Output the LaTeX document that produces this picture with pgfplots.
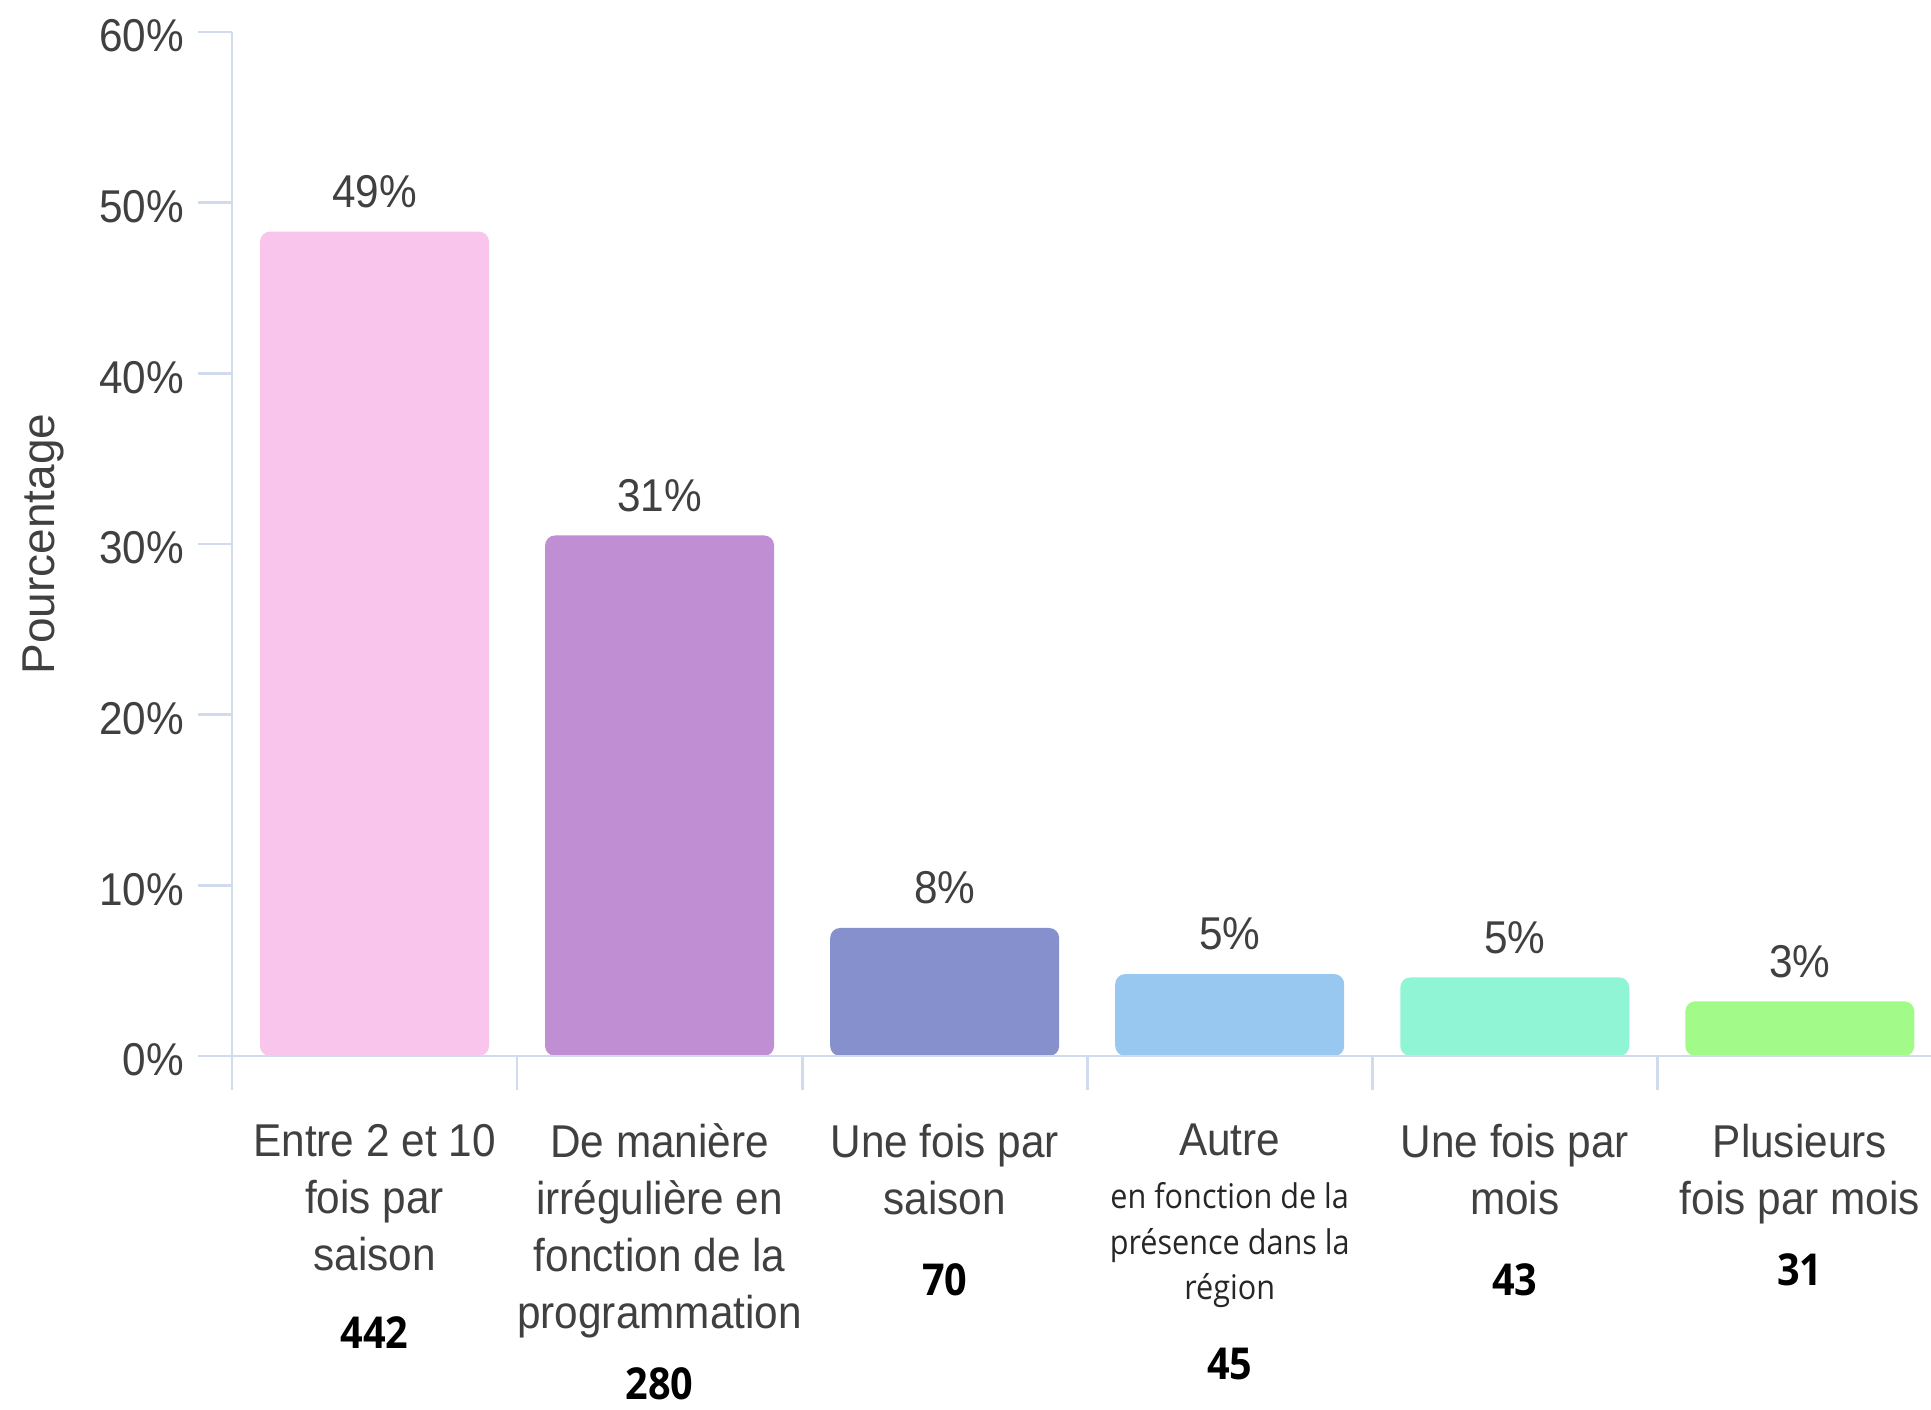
\documentclass[border=0pt]{standalone}
\usepackage{fontspec}
\setmainfont{Liberation Sans}[FakeStretch=0.92]
\newfontfamily\plainfont{Liberation Sans}
\newfontfamily\osfont{Open Sans}[FakeStretch=0.9]
\usepackage{pgfplots}
\pgfplotsset{compat=1.18}
\definecolor{axiscol}{HTML}{D2DAEE}
\definecolor{txt}{HTML}{404040}
\definecolor{cA}{HTML}{F9C5EC}
\definecolor{cB}{HTML}{C08ED3}
\definecolor{cC}{HTML}{8690CC}
\definecolor{cD}{HTML}{98C8F0}
\definecolor{cE}{HTML}{8FF5D5}
\definecolor{cF}{HTML}{A2FB89}
\newcommand{\cnt}[1]{{\osfont\bfseries\fontsize{11}{14}\selectfont\color{black}#1}}
\newcommand{\subtxt}[1]{{\osfont\fontsize{8.5}{11.4}\selectfont\color{black!85}\begin{tabular}[t]{@{}c@{}}#1\end{tabular}}}
\begin{document}
\begin{tikzpicture}
\begin{axis}[
  scale only axis, width=424.75pt, height=256pt,
  xmin=-0.5, xmax=5.46, ymin=0, ymax=60,
  axis lines=left,
  axis line style={-, draw=axiscol, line width=0.7pt},
  axis on top,
  ybar, bar width=57.25pt, bar shift=0pt,
  xtick={0,1,2,3,4,5},
  xticklabels={
    {Entre 2 et 10\\fois par\\saison\\[5.3pt]\cnt{442}},
    {De manière\\irrégulière en\\fonction de la\\programmation\\[3.4pt]\cnt{280}},
    {Une fois par\\saison\\[6pt]\cnt{70}},
    {Autre\\[-1pt]\subtxt{en fonction de la\\présence dans la\\région}\\[7.6pt]\cnt{45}},
    {Une fois par\\mois\\[6pt]\cnt{43}},
    {Plusieurs\\fois par mois\\[3.5pt]\cnt{31}}
  },
  minor xtick={-0.5,0.5,1.5,2.5,3.5,4.5},
  major x tick style={draw=none},
  tick align=outside,
  tick style={draw=axiscol, line width=0.7pt},
  major tick length=8.5pt, minor tick length=8.5pt,
  ytick={0,10,20,30,40,50,60},
  yticklabel={\pgfmathprintnumber{\tick}\%},
  /pgf/number format/assume math mode=true,
  ticklabel style={font=\fontsize{11.5}{14.25}\selectfont, text=txt},
  yticklabel style={yshift=-1pt},
  xticklabel style={align=center, anchor=north, yshift=-5pt},
  ylabel={Pourcentage},
  every axis y label/.style={at={(rel axis cs:0,0.5)}, rotate=90, anchor=center, yshift=47.25pt, font=\plainfont\fontsize{11.5}{14}\selectfont, text=txt},
  point meta=explicit symbolic,
  nodes near coords={\pgfplotspointmeta\%},
  every node near coord/.append style={font=\fontsize{11.5}{14}\selectfont, text=txt, anchor=south, yshift=2.4pt},
]
\addplot[fill=cA, draw=none, rounded corners=2.5pt, bar shift=0pt] coordinates {(0,48.3) [49]};
\addplot[fill=cB, draw=none, rounded corners=2.5pt, bar shift=0pt] coordinates {(1,30.5) [31]};
\addplot[fill=cC, draw=none, rounded corners=2.5pt, bar shift=0pt] coordinates {(2,7.5) [8]};
\addplot[fill=cD, draw=none, rounded corners=2.5pt, bar shift=0pt] coordinates {(3,4.8) [5]};
\addplot[fill=cE, draw=none, rounded corners=2.5pt, bar shift=0pt] coordinates {(4,4.6) [5]};
\addplot[fill=cF, draw=none, rounded corners=2.5pt, bar shift=0pt] coordinates {(5,3.2) [3]};
\coordinate (o) at (rel axis cs:0,0);
\end{axis}
\pgfresetboundingbox
\path ([shift={(-58pt,264pt)}]o) rectangle ([shift={(424.75pt,-88.5pt)}]o);
\end{tikzpicture}
\end{document}
